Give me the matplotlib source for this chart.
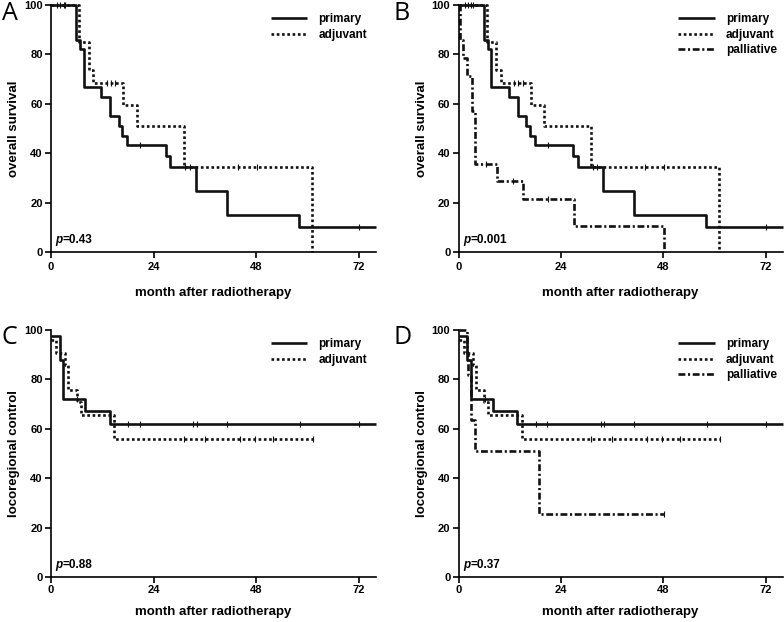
import numpy as np
import matplotlib.pyplot as plt

plt.rcParams['font.family'] = ['Liberation Sans', 'DejaVu Sans']
plt.rcParams['font.weight'] = 'bold'

# overall survival (A, B)
os_primary_t = [0, 5.9, 6.8, 7.7, 11.8, 13.9, 15.9, 16.7, 17.8, 26.9, 27.9, 33.9, 41.1, 58.0, 76]
os_primary_s = [100, 85.8, 82.2, 66.6, 62.8, 54.9, 51.0, 47.1, 43.2, 39.0, 34.5, 24.8, 14.8, 10.0, 10.0]
os_primary_c = [2.2, 3.3, 20.9, 31.4, 72]
os_adjuvant_t = [0, 6.6, 8.8, 9.9, 16.9, 20.0, 31.0, 61.1]
os_adjuvant_s = [100, 85.1, 73.7, 68.3, 59.7, 51.0, 34.2, 0]
os_adjuvant_c = [1.5, 3.0, 13.0, 14.0, 15.0, 32.5, 43.8, 48.1]
os_palliative_t = [0, 0.3, 1.0, 2.0, 3.1, 3.9, 8.9, 15.0, 27.1, 48.2]
os_palliative_s = [100, 85.7, 78.6, 71.4, 57.1, 35.7, 28.6, 21.4, 10.7, 0]
os_palliative_c = [6.5, 12.8, 21.0]

# locoregional control (C, D)
lc_primary_t = [0, 2.0, 2.8, 8.0, 13.8, 76]
lc_primary_s = [97.4, 87.8, 72.0, 67.4, 61.8, 61.8]
lc_primary_c = [6.1, 18.1, 20.8, 33.3, 34.1, 41.1, 58.2, 72]
lc_adjuvant_t = [0, 1.2, 3.3, 4.0, 6.0, 6.9, 14.8, 61.2]
lc_adjuvant_s = [95.9, 90.6, 85.8, 75.9, 70.7, 65.4, 55.8, 55.8]
lc_adjuvant_c = [31.0, 35.9, 44.2, 47.7, 52.0, 61.2]
lc_palliative_t = [0, 1.9, 2.3, 2.8, 3.8, 18.8, 48.2]
lc_palliative_s = [100, 90.9, 81.8, 63.6, 51.0, 25.5, 25.5]
lc_palliative_c = [48.2]

p_values = ['0.43', '0.001', '0.88', '0.37']
ylabels = ['overall survival', 'overall survival', 'locoregional control', 'locoregional control']
letters = ['A', 'B', 'C', 'D']
xticks = [0, 24, 48, 72]
yticks = [0, 20, 40, 60, 80, 100]

styles = {
    'primary': dict(ls='-', lw=1.9),
    'adjuvant': dict(ls=(0, (1.0, 1.0)), lw=1.9),
    'palliative': dict(ls=(0, (2.6, 1.0, 0.8, 1.0)), lw=1.9),
}

panels = [
    [('primary', os_primary_t, os_primary_s, os_primary_c),
     ('adjuvant', os_adjuvant_t, os_adjuvant_s, os_adjuvant_c)],
    [('primary', os_primary_t, os_primary_s, os_primary_c),
     ('adjuvant', os_adjuvant_t, os_adjuvant_s, os_adjuvant_c),
     ('palliative', os_palliative_t, os_palliative_s, os_palliative_c)],
    [('primary', lc_primary_t, lc_primary_s, lc_primary_c),
     ('adjuvant', lc_adjuvant_t, lc_adjuvant_s, lc_adjuvant_c)],
    [('primary', lc_primary_t, lc_primary_s, lc_primary_c),
     ('adjuvant', lc_adjuvant_t, lc_adjuvant_s, lc_adjuvant_c),
     ('palliative', lc_palliative_t, lc_palliative_s, lc_palliative_c)],
]

rects = [
    [0.0651, 0.5949, 0.4145, 0.3971],
    [0.5850, 0.5949, 0.4133, 0.3971],
    [0.0651, 0.0723, 0.4145, 0.3971],
    [0.5850, 0.0723, 0.4133, 0.3971],
]
legend_x = [1.005, 1.015, 1.005, 1.015]
xlabel_pad = [11, 11, 8, 8]
letter_pos = [(0.002, 0.998), (0.502, 0.998), (0.002, 0.478), (0.502, 0.478)]

fig = plt.figure(figsize=(7.84, 6.22), dpi=100)

for i, curves in enumerate(panels):
    ax = fig.add_axes(rects[i])
    for name, t, s, c in curves:
        t = np.array(t)
        s = np.array(s)
        ax.step(t, s, where='post', color='#111111', label=name,
                clip_on=False, solid_capstyle='butt', **styles[name])
        c = np.array(c)
        cs = s[np.searchsorted(t, c, side='right') - 1]
        ax.plot(c, cs, ls='none', marker='|', ms=4, mew=0.8, color='#111111',
                clip_on=False)
    ax.set_xlim(0, 76)
    ax.set_ylim(0, 100)
    ax.set_xticks(xticks)
    ax.set_yticks(yticks)
    for side in ['top', 'right']:
        ax.spines[side].set_visible(False)
    for side in ['left', 'bottom']:
        ax.spines[side].set_linewidth(1.2)
    ax.tick_params(length=4, width=1.2, labelsize=8, pad=2)
    ax.tick_params(axis='x', pad=3 if i < 2 else 2)
    for lab in ax.get_xticklabels() + ax.get_yticklabels():
        lab.set_fontweight('bold')
    ax.set_xlabel('month after radiotherapy', fontsize=9.5, fontweight='bold',
                  labelpad=xlabel_pad[i])
    ax.set_ylabel(ylabels[i], fontsize=9.5, fontweight='bold', labelpad=3)
    ax.legend(loc='upper right', bbox_to_anchor=(legend_x[i], 1.01), frameon=False,
              handlelength=3.1, handletextpad=0.95, labelspacing=0.3,
              prop=dict(size=8.5, weight='bold'))
    tp = ax.text(1.0, 3.5, 'p', fontsize=8.5, fontweight='bold', style='italic',
                 va='baseline')
    ax.annotate('=' + p_values[i], xy=(1, 0), xycoords=tp, fontsize=8.5,
                fontweight='bold', va='bottom')
    fig.text(letter_pos[i][0], letter_pos[i][1], letters[i], fontsize=18,
             fontweight='normal', family='Open Sans', va='top', ha='left')

fig.savefig('out.png', dpi=100)
